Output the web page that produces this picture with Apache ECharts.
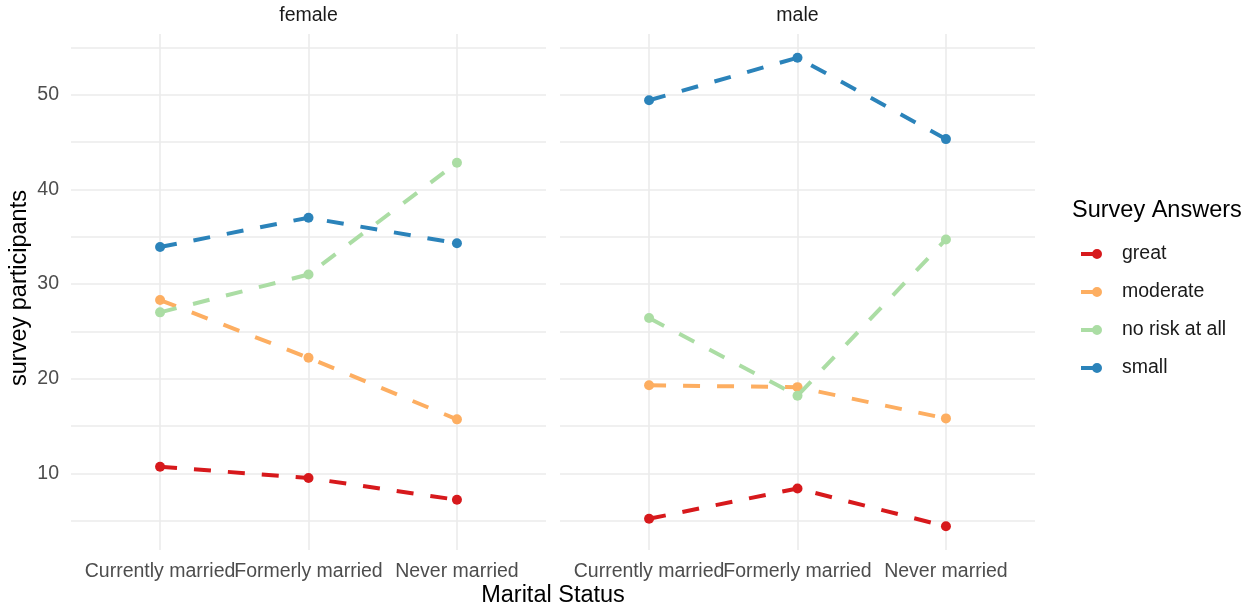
<!DOCTYPE html>
<html>
<head>
<meta charset="utf-8">
<script src="https://cdn.jsdelivr.net/npm/echarts@6/dist/echarts.min.js"></script>
<style>
html,body{margin:0;padding:0;background:#fff;}
#chart{width:1258px;height:609px;}
</style>
</head>
<body>
<div id="chart"></div>
<script>
const categories = ['Currently married', 'Formerly married', 'Never married'];
const panels = ['female', 'male'];
const answers = ['great', 'moderate', 'no risk at all', 'small'];
const colors = ['#D7191C', '#FDAE61', '#ABDDA4', '#2B83BA'];

const female_great = [10.7, 9.5, 7.2];
const female_moderate = [28.3, 22.2, 15.7];
const female_norisk = [27.0, 31.0, 42.8];
const female_small = [33.9, 37.0, 34.3];

const male_great = [5.2, 8.4, 4.4];
const male_moderate = [19.3, 19.1, 15.8];
const male_norisk = [26.4, 18.2, 34.7];
const male_small = [49.4, 53.9, 45.3];

const yLabelTicks = [10, 20, 30, 40, 50];
const yGridTicks = [5, 10, 15, 20, 25, 30, 35, 40, 45, 50, 55];

const panelData = {
  female: [female_great, female_moderate, female_norisk, female_small],
  male: [male_great, male_moderate, male_norisk, male_small]
};

const FONT = "'Liberation Sans', Arial, Helvetica, sans-serif";
const gridColor = '#EBEBEB';
const TOP = 34, HEIGHT = 516;
const panelLeft = [71, 560], panelWidth = 475;
// band width for category label axes: panel spans 3.2 category units (0.6 expansion each side)
const band = panelWidth / 3.2;

const grids = [
  {left: panelLeft[0], width: panelWidth, top: TOP, height: HEIGHT},
  {left: panelLeft[1], width: panelWidth, top: TOP, height: HEIGHT},
  {left: panelLeft[0] + 0.1 * band, width: 3 * band, top: TOP, height: HEIGHT},
  {left: panelLeft[1] + 0.1 * band, width: 3 * band, top: TOP, height: HEIGHT}
];

const xAxes = panels.map((p, i) => ({
  type: 'value', gridIndex: i, min: -0.6, max: 2.6,
  axisLine: {show: false},
  axisTick: {show: false, customValues: [0, 1, 2]},
  axisLabel: {show: false},
  splitLine: {show: true, lineStyle: {color: gridColor, width: 1.6}}
})).concat(panels.map((p, i) => ({
  type: 'category', gridIndex: 2 + i, data: categories, boundaryGap: true,
  axisLine: {show: false}, axisTick: {show: false}, splitLine: {show: false},
  axisLabel: {interval: 0, color: '#4D4D4D', fontSize: 19.5, fontFamily: FONT, margin: 12, hideOverlap: false}
})));

const yAxes = panels.map((p, i) => ({
  type: 'value', gridIndex: i, min: 1.9, max: 56.4,
  axisLine: {show: false},
  axisTick: {show: false, customValues: yGridTicks},
  axisLabel: {
    show: i === 0,
    customValues: yLabelTicks,
    color: '#4D4D4D', fontSize: 19.5, fontFamily: FONT, margin: 12
  },
  splitLine: {show: true, lineStyle: {color: gridColor, width: 1.6}}
})).concat(panels.map((p, i) => ({
  type: 'value', gridIndex: 2 + i, min: 1.9, max: 56.4, show: false
})));

const series = [];
panels.forEach((p, pi) => {
  answers.forEach((a, ai) => {
    series.push({
      name: a, type: 'line', xAxisIndex: pi, yAxisIndex: pi,
      data: panelData[p][ai].map((v, ci) => [ci, v]),
      symbol: 'circle', symbolSize: 10, showSymbol: true,
      itemStyle: {color: colors[ai]},
      lineStyle: {color: colors[ai], width: 4, type: [17, 17], cap: 'butt'},
      emphasis: {disabled: true},
      animation: false, z: 2 + ai
    });
  });
});

const legendIcon = 'path://M0,3 L12,3 L12,7 L0,7 Z M11,5 A5,5 0 1,1 21,5 A5,5 0 1,1 11,5 Z';

const chart = echarts.init(document.getElementById('chart'), null, {renderer: 'canvas'});
chart.setOption({
  backgroundColor: '#ffffff',
  animation: false,
  grid: grids,
  xAxis: xAxes,
  yAxis: yAxes,
  series: series,
  legend: {
    data: answers.map(a => ({name: a, icon: legendIcon})),
    orient: 'vertical', left: 1076, top: 239,
    itemWidth: 21, itemHeight: 10, itemGap: 18,
    textStyle: {fontSize: 19.5, fontFamily: FONT, color: '#1A1A1A', padding: [0, 0, 0, 15], lineHeight: 20},
    selectedMode: false
  },
  graphic: [
    {type: 'text', x: 308.5, y: 16, style: {text: 'female', fontSize: 19.5, fontFamily: FONT, fill: '#1A1A1A', align: 'center', verticalAlign: 'middle'}},
    {type: 'text', x: 797.5, y: 16, style: {text: 'male', fontSize: 19.5, fontFamily: FONT, fill: '#1A1A1A', align: 'center', verticalAlign: 'middle'}},
    {type: 'text', x: 553, y: 596, style: {text: 'Marital Status', fontSize: 23.5, fontFamily: FONT, fill: '#000', align: 'center', verticalAlign: 'middle'}},
    {type: 'text', x: 20, y: 288, rotation: Math.PI / 2, style: {text: 'survey participants', fontSize: 23.5, fontFamily: FONT, fill: '#000', align: 'center', verticalAlign: 'middle'}},
    {type: 'text', x: 1072, y: 211, style: {text: 'Survey Answers', fontSize: 23.5, fontFamily: FONT, fill: '#000', align: 'left', verticalAlign: 'middle'}}
  ]
});
</script>
</body>
</html>
